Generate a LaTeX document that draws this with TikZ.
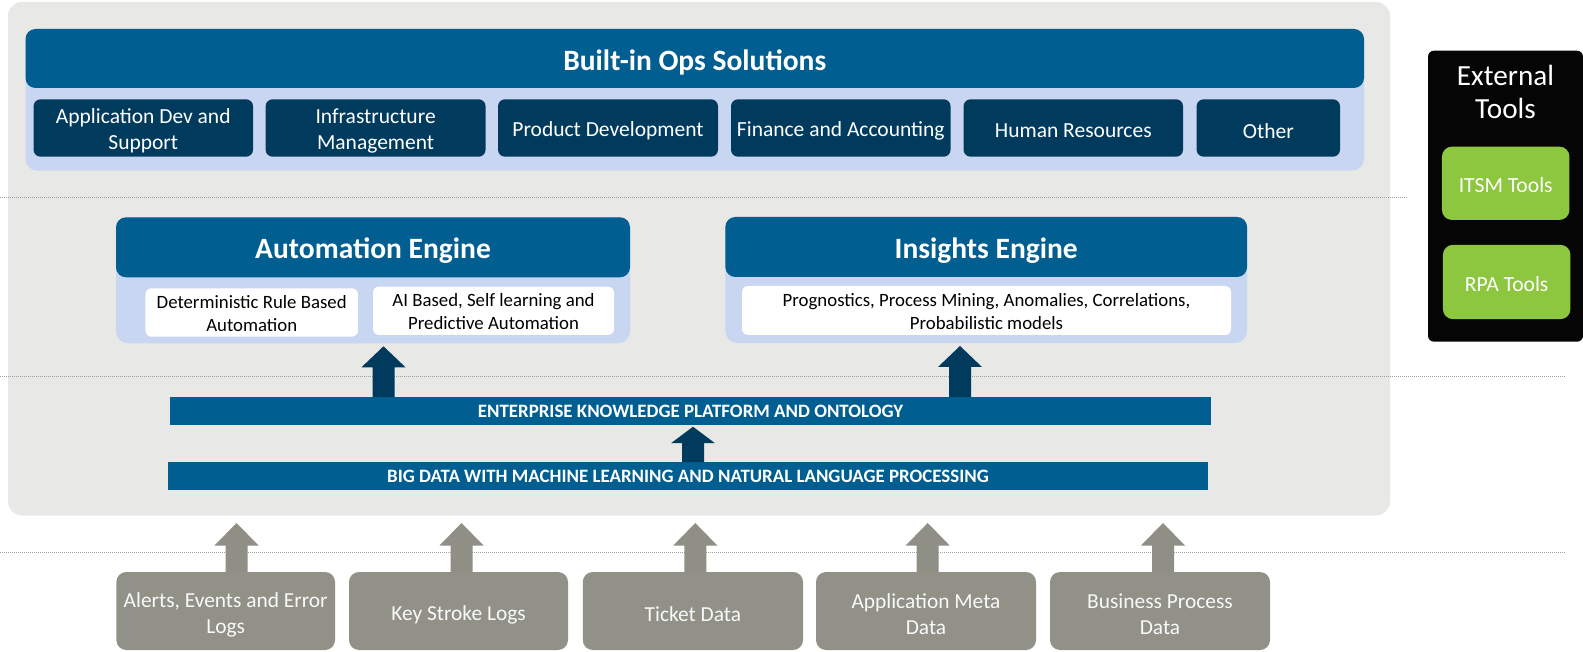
\documentclass[tikz,border=0pt]{standalone}
\usepackage{fontspec}
\setmainfont{Carlito}
\usetikzlibrary{calc}
\definecolor{hdr}{RGB}{0,94,145}
\definecolor{navy}{RGB}{0,59,94}
\definecolor{lblue}{RGB}{201,214,242}
\definecolor{bggray}{RGB}{232,232,230}
\definecolor{grn}{RGB}{141,198,63}
\definecolor{gbox}{RGB}{145,145,136}
\definecolor{garrow}{RGB}{143,143,134}
\definecolor{darr}{RGB}{0,58,93}
\definecolor{dotgray}{RGB}{160,160,160}
\newcommand\blockarrow[6]{% #1 color, #2 x, #3 source, #4 target, #5 gap, #6 head length
  \fill[#1] let \p1=(#3.north), \p2=(#4.south) in
   (#2pt-11pt,\y1) -- (#2pt-11pt,\y2-#5pt-#6pt) -- (#2pt-22pt,\y2-#5pt-#6pt) -- (#2pt,\y2-#5pt)
   -- (#2pt+22pt,\y2-#5pt-#6pt) -- (#2pt+11pt,\y2-#5pt-#6pt) -- (#2pt+11pt,\y1) -- cycle;}
\tikzset{
  every node/.style={inner sep=0pt, outer sep=0pt, align=center},
  panel/.style={fill=lblue, rounded corners=12pt},
  header/.style={fill=hdr, rounded corners=10pt},
  hdrtxt/.style={text=white, font=\fontsize{29.5}{32}\selectfont\bfseries, yshift=-3.5pt},
  subbox/.style={fill=navy, rounded corners=7pt},
  subtxt/.style={text=white, font=\fontsize{21.5}{26}\selectfont, yshift=-3pt},
  whitebox/.style={fill=white, rounded corners=6pt},
  whitetxt/.style={text=black, font=\fontsize{18.8}{23}\selectfont, yshift=-1pt},
  bar/.style={fill=hdr},
  bartxt/.style={text=white, font=\fontsize{18.9}{20}\selectfont\bfseries, yshift=-1pt},
  graybox/.style={fill=gbox, rounded corners=10pt},
  graytxt/.style={text=white!95!gray, font=\fontsize{21.4}{26}\selectfont, yshift=-3.5pt},
  greenbox/.style={fill=grn, rounded corners=10pt},
  greentxt/.style={text=white, font=\fontsize{21.6}{24}\selectfont, yshift=-2pt},
  sep/.style={dotgray, line width=1pt, dash pattern=on 1pt off 1pt},
}
\begin{document}
\begin{tikzpicture}[x=1pt,y=-1pt]
\useasboundingbox (0,0) rectangle (1583,652);
% background panel
\node[fill=bggray, rounded corners=14pt, minimum width=1382pt, minimum height=513.5pt] (bg) at (699,258.75) {};
% separators
\draw[sep] (0,198) -- (1408,198);
\draw[sep] (0,377) -- (1566,377);
\draw[sep] (0,552) -- (1566,552);
% Built-in Ops Solutions
\node[panel, minimum width=1338.5pt, minimum height=141.7pt] (opspanel) at (694.75,99.85) {};
\node[header, minimum width=1338.5pt, minimum height=59pt, label={[hdrtxt]center:Built-in Ops Solutions}] (ops) at (694.75,58.5) {};
\node[subbox, minimum width=219.5pt, minimum height=57.4pt, label={[subtxt]center:{Application Dev and\\Support}}] (app) at (143.3,128) {};
\node[subbox, minimum width=220pt, minimum height=57.4pt, label={[subtxt]center:{Infrastructure\\Management}}] (infra) at (375.6,128) {};
\node[subbox, minimum width=220pt, minimum height=57.4pt, label={[subtxt]center:Product Development}] (prod) at (608,128) {};
\node[subbox, minimum width=219.6pt, minimum height=57.4pt, label={[subtxt]center:Finance and Accounting}] (fin) at (840.8,128) {};
\node[subbox, minimum width=219.5pt, minimum height=57.4pt, label={[subtxt]center:Human Resources}] (hr) at (1073.3,128) {};
\node[subbox, minimum width=143.4pt, minimum height=57.4pt, label={[subtxt]center:Other}] (other) at (1268.3,128) {};
% External tools
\node[fill=black!98, rounded corners=6pt, minimum width=155pt, minimum height=291pt] (ext) at (1505.5,196.2) {};
\node[text=white, font=\fontsize{29.2}{33}\selectfont, anchor=north] (exttitle) at (1505.5,65.5) {External\\Tools};
\node[greenbox, minimum width=127.5pt, minimum height=73.3pt, label={[greentxt]center:ITSM Tools}] (itsm) at (1505.7,183.3) {};
\node[greenbox, minimum width=127.5pt, minimum height=74.3pt, label={[greentxt]center:RPA Tools}] (rpa) at (1506.7,282) {};
% Automation Engine
\node[panel, minimum width=514pt, minimum height=126pt] (auto) at (373,280.3) {};
\node[header, minimum width=514pt, minimum height=60pt, label={[hdrtxt]center:Automation Engine}] (autoh) at (373,247.3) {};
\node[whitebox, minimum width=212.5pt, minimum height=48.4pt, label={[whitetxt]center:{Deterministic Rule Based\\Automation}}] (det) at (251.7,312.5) {};
\node[whitebox, minimum width=241pt, minimum height=48.3pt, label={[whitetxt]center:{AI Based, Self learning and\\Predictive Automation}}] (ai) at (493.5,310.8) {};
% Insights Engine
\node[panel, minimum width=521.7pt, minimum height=126pt] (ins) at (986.2,280) {};
\node[header, minimum width=521.7pt, minimum height=60pt, label={[hdrtxt]center:Insights Engine}] (insh) at (986.2,247) {};
\node[whitebox, minimum width=489pt, minimum height=49pt, label={[whitetxt]center:{Prognostics, Process Mining, Anomalies, Correlations,\\Probabilistic models}}] (prog) at (986.5,310.5) {};
% bars
\node[bar, minimum width=1041pt, minimum height=27.7pt, label={[bartxt]center:ENTERPRISE KNOWLEDGE PLATFORM AND ONTOLOGY}] (ekp) at (690.5,410.85) {};
\node[bar, minimum width=1040pt, minimum height=27.7pt, label={[bartxt]center:BIG DATA WITH MACHINE LEARNING AND NATURAL LANGUAGE PROCESSING}] (bd) at (688,475.85) {};
% data sources
\node[graybox, minimum width=218.7pt, minimum height=78pt, label={[graytxt]center:{Alerts, Events and Error\\Logs}}] (alerts) at (225.7,611) {};
\node[graybox, minimum width=219pt, minimum height=78pt, label={[graytxt]center:Key Stroke Logs}] (keys) at (458.5,611) {};
\node[graybox, minimum width=220.3pt, minimum height=78pt, label={[graytxt]center:Ticket Data}] (ticket) at (692.9,611) {};
\node[graybox, minimum width=220pt, minimum height=78pt, label={[graytxt]center:{Application Meta\\Data}}] (meta) at (926,611) {};
\node[graybox, minimum width=220pt, minimum height=78pt, label={[graytxt]center:{Business Process\\Data}}] (bp) at (1160,611) {};
% arrows
\blockarrow{darr}{383.5}{ekp}{auto}{3}{21}
\blockarrow{darr}{960}{ekp}{ins}{3}{21}
\blockarrow{darr}{693}{bd}{ekp}{2}{16.5}
\blockarrow{garrow}{236.5}{alerts}{bg}{7.5}{22.5}
\blockarrow{garrow}{461.5}{keys}{bg}{7.5}{22.5}
\blockarrow{garrow}{695.3}{ticket}{bg}{7.5}{22.5}
\blockarrow{garrow}{927.7}{meta}{bg}{7.5}{22.5}
\blockarrow{garrow}{1163}{bp}{bg}{7.5}{22.5}
\end{tikzpicture}
\end{document}
